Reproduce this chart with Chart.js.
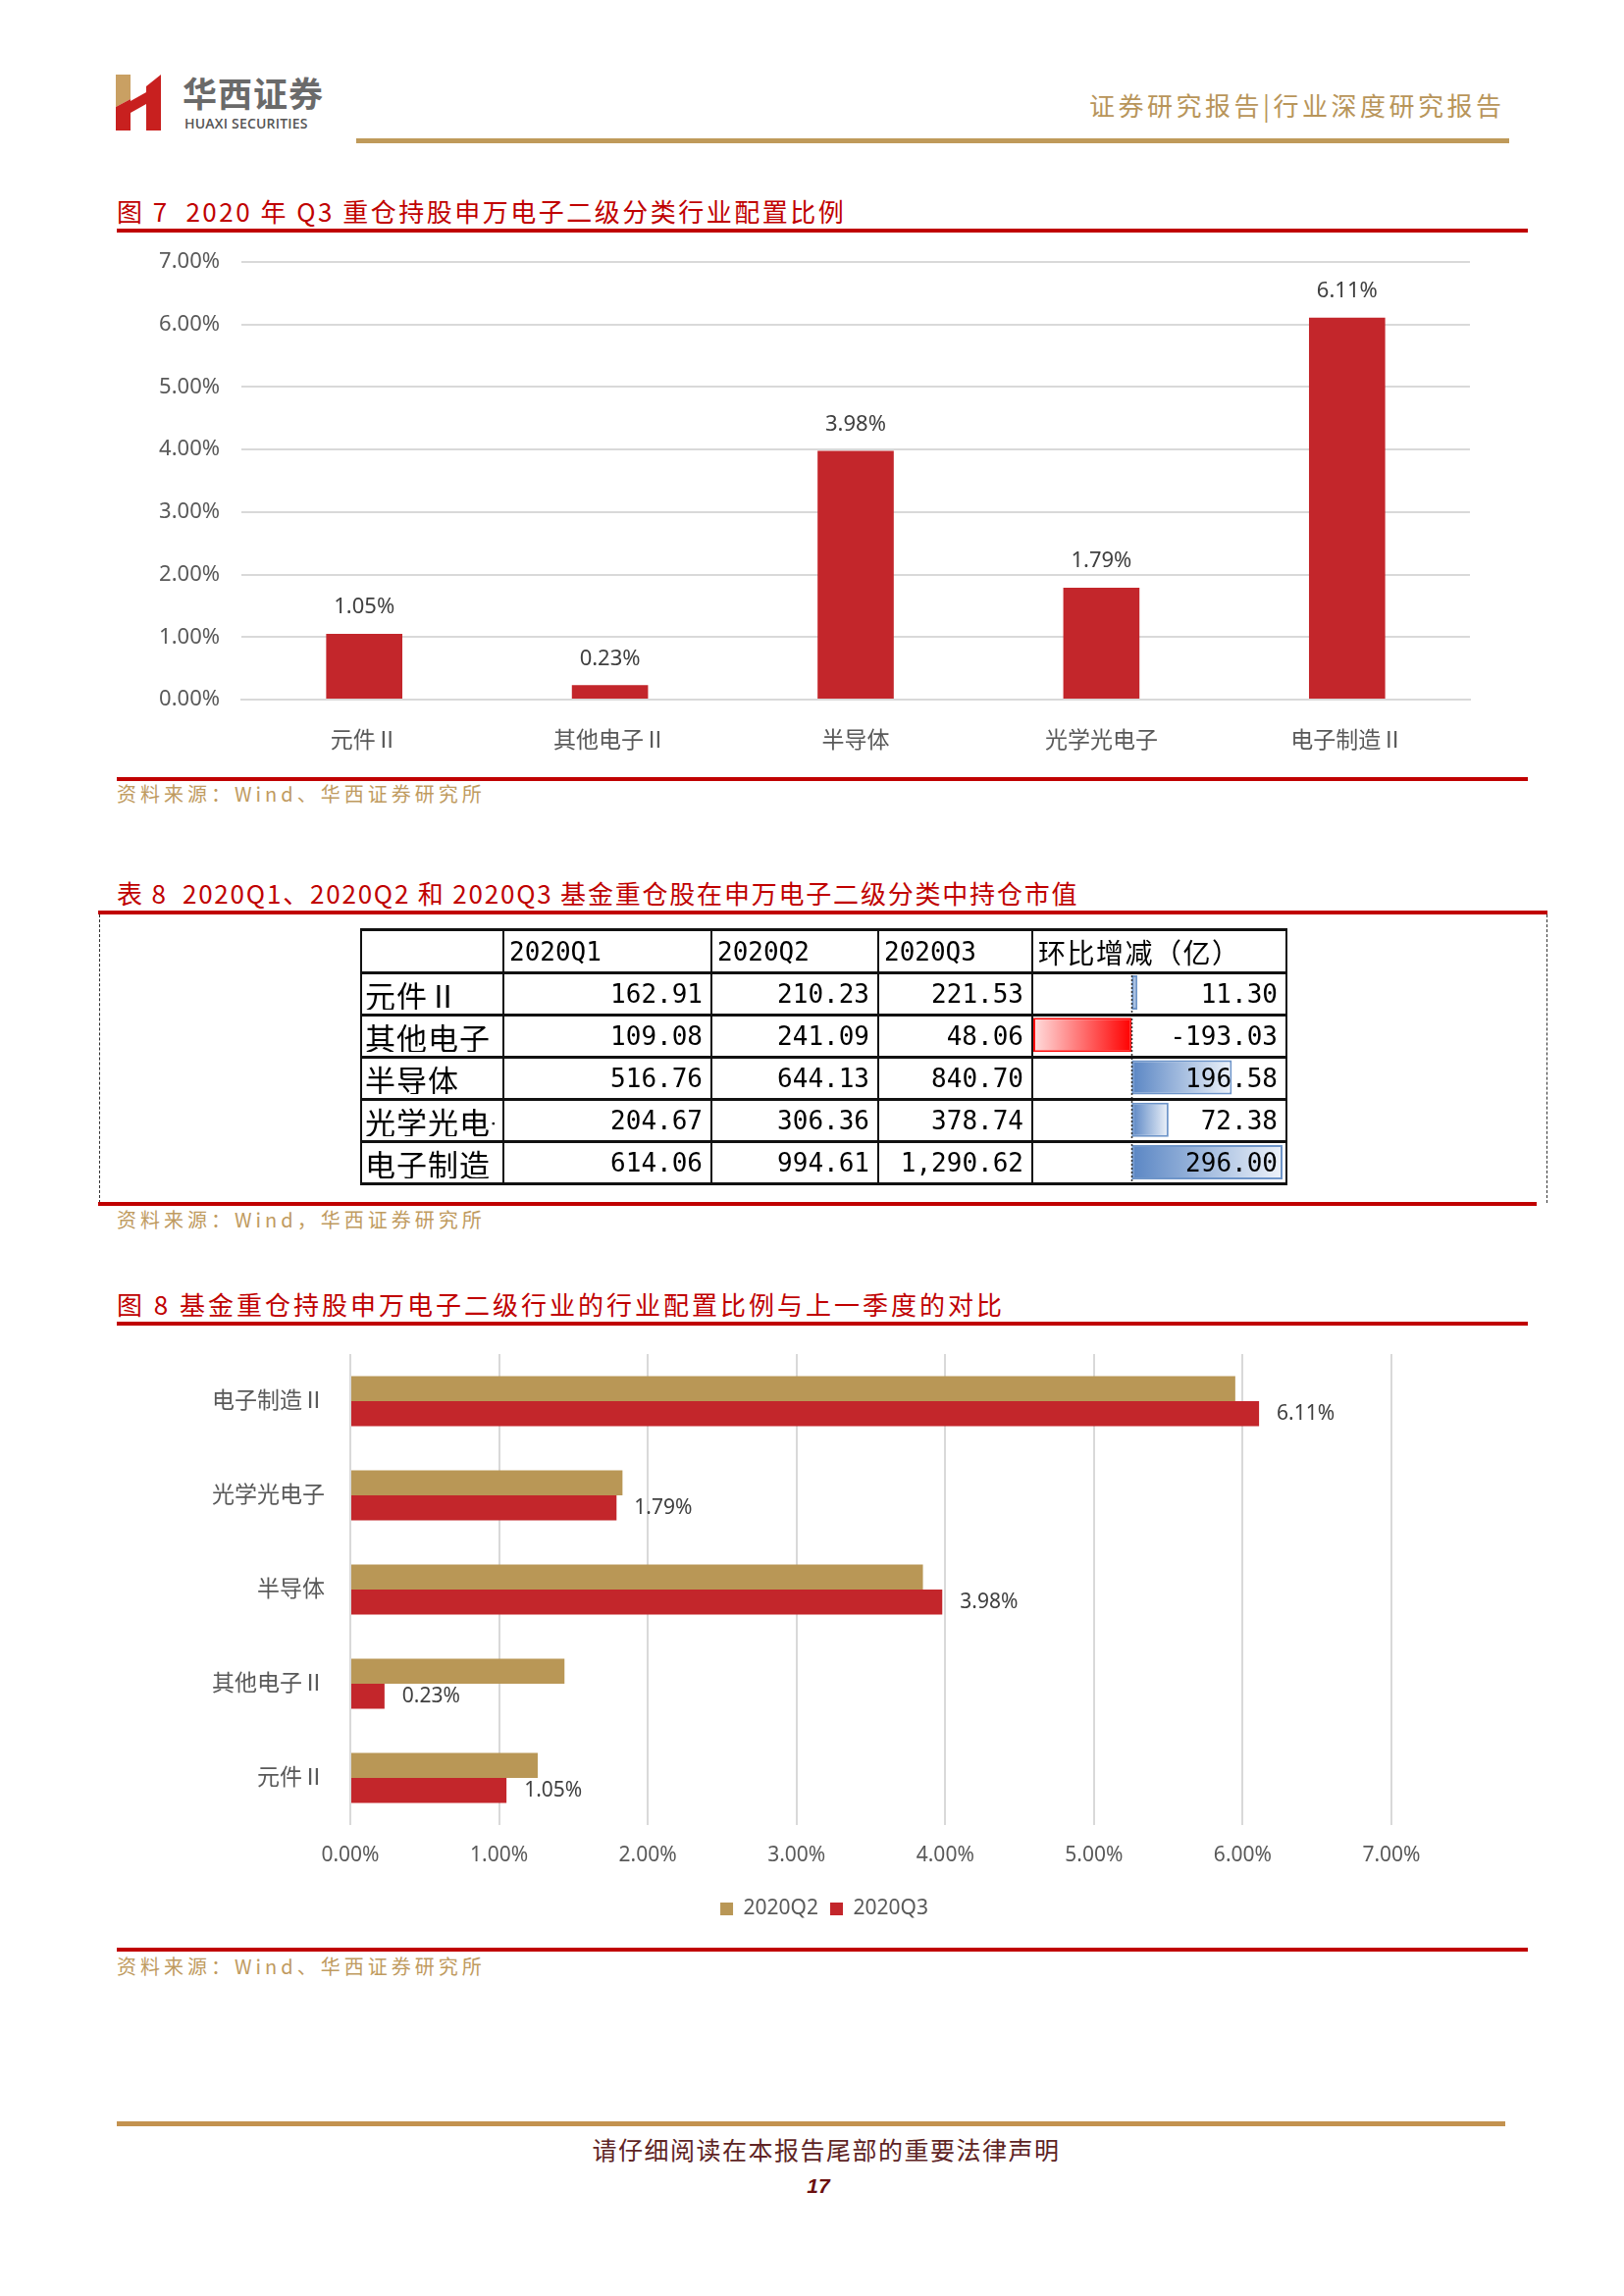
<!DOCTYPE html>
<html><head><meta charset="utf-8">
<script src="https://cdn.jsdelivr.net/npm/chart.js@4.4.1/dist/chart.umd.min.js"></script>
<style>
html,body{margin:0;padding:0;background:#fff;}
#page{position:relative;width:1655px;height:2340px;overflow:hidden;font-family:"Noto Sans CJK SC","Noto Sans",sans-serif;background:#fff;}
.t{position:absolute;white-space:nowrap;line-height:1;}
.bar{position:absolute;}
canvas{position:absolute;}
.title{color:#c00000;font-size:26px;letter-spacing:2.5px;left:119px;}
.src{color:#bf9b5f;font-size:20px;letter-spacing:4px;left:119px;}
#tbl{position:absolute;left:367px;top:946px;border-collapse:collapse;table-layout:fixed;z-index:2;background:transparent;}
#tbl td{border-top:3px solid #111;border-bottom:3px solid #111;border-left:2px solid #111;border-right:2px solid #111;padding:0;vertical-align:middle;overflow:hidden;white-space:nowrap;line-height:1;box-sizing:border-box;}
#tbl td.num{font-family:"DejaVu Sans Mono",monospace;font-size:26px;text-align:right;padding-right:8px;color:#000;}
#tbl td.hd{font-family:"DejaVu Sans Mono",monospace;font-size:26px;text-align:left;padding-left:5px;color:#000;}
#tbl td.cj{font-size:28px;text-align:left;padding-left:5px;color:#000;letter-spacing:1.5px;}
#tbl td.rl{font-size:31px;text-align:left;padding-left:3px;color:#000;letter-spacing:1px;}
</style></head>
<body><div id="page">

<!-- header logo -->
<svg style="position:absolute;left:118px;top:76px" width="46" height="57" viewBox="0 0 46 57">
  <polygon points="0,0 15,0 15,25 0,33" fill="#c9a063"/>
  <polygon points="0,33 15,25 15,57 0,57" fill="#c8201f"/>
  <polygon points="15,27 31,18 31,30 15,39" fill="#c8201f"/>
  <polygon points="31,12 46,0 46,57 31,57" fill="#c8201f"/>
</svg>
<div class="t" style="left:186px;top:76px;font-size:35px;font-weight:700;color:#6a6a6a;letter-spacing:1px;">华西证券</div>
<div class="t" style="left:188px;top:119px;font-size:14px;font-weight:600;color:#555;font-family:'Open Sans',sans-serif;letter-spacing:0.2px;">HUAXI SECURITIES</div>
<div class="t" style="left:1110px;top:94px;font-size:26px;color:#b8955a;letter-spacing:3.5px;">证券研究报告|行业深度研究报告</div>
<div class="bar" style="left:363px;top:141px;width:1175px;height:5px;background:#bf9a5a;"></div>

<!-- figure 7 -->
<div class="t title" style="top:202px;">图 7&nbsp; 2020 年 Q3 重仓持股申万电子二级分类行业配置比例</div>
<div class="bar" style="left:119px;top:233px;width:1438px;height:4px;background:#c00000;"></div>
<canvas id="c1" width="1400" height="545" style="left:120px;top:230px;"></canvas>
<div class="bar" style="left:119px;top:792px;width:1438px;height:4px;background:#c00000;"></div>
<div class="t src" style="top:799px;">资料来源：Wind、华西证券研究所</div>

<!-- table 8 -->
<div class="t title" style="top:897px;letter-spacing:1.8px;">表 8&nbsp; 2020Q1、2020Q2 和 2020Q3 基金重仓股在申万电子二级分类中持仓市值</div>
<div class="bar" style="left:100px;top:928px;width:1477px;height:4px;background:#c00000;"></div>
<div class="bar" style="left:101px;top:932px;width:0;height:294px;border-left:1px dashed #333;"></div>
<div class="bar" style="left:1576px;top:932px;width:0;height:294px;border-left:1px dashed #333;"></div>
<canvas id="c3" width="254" height="216" style="left:1053px;top:990px;z-index:1;"></canvas>
<table id="tbl"></table>
<div class="bar" style="left:100px;top:1225px;width:1466px;height:4px;background:#c00000;"></div>
<div class="t src" style="top:1233px;">资料来源：Wind，华西证券研究所</div>

<!-- figure 8 -->
<div class="t title" style="top:1316px;letter-spacing:3px;">图 8 基金重仓持股申万电子二级行业的行业配置比例与上一季度的对比</div>
<div class="bar" style="left:119px;top:1347px;width:1438px;height:4px;background:#c00000;"></div>
<canvas id="c2" width="1440" height="606" style="left:120px;top:1360px;"></canvas>
<div class="bar" style="left:119px;top:1985px;width:1438px;height:4px;background:#c00000;"></div>
<div class="t src" style="top:1994px;">资料来源：Wind、华西证券研究所</div>

<!-- footer -->
<div class="bar" style="left:119px;top:2162px;width:1415px;height:5px;background:#c3924f;"></div>
<div class="t" style="left:0;width:1684px;text-align:center;top:2178px;font-size:25px;color:#5e2424;letter-spacing:1.5px;">请仔细阅读在本报告尾部的重要法律声明</div>
<div class="t" style="left:0;width:1668px;text-align:center;top:2217px;font-size:21px;font-weight:700;font-style:italic;color:#6b0f0f;font-family:'Liberation Sans',sans-serif;">17</div>

</div>
<script>
// ---------------- data ----------------
const categories = ['元件Ⅱ', '其他电子Ⅱ', '半导体', '光学光电子', '电子制造Ⅱ'];
const share2020Q3 = [1.05, 0.23, 3.98, 1.79, 6.11];
const share2020Q2 = [1.26, 1.44, 3.85, 1.83, 5.95];
const seriesNames = ['2020Q2', '2020Q3'];
const tableHeaders = ['', '2020Q1', '2020Q2', '2020Q3', '环比增减（亿）'];
const value2020Q1 = [162.91, 109.08, 516.76, 204.67, 614.06];
const value2020Q2 = [210.23, 241.09, 644.13, 306.36, 994.61];
const value2020Q3 = [221.53, 48.06, 840.70, 378.74, 1290.62];
const valueChange = [11.30, -193.03, 196.58, 72.38, 296.00];
const pctTicks = [0, 1, 2, 3, 4, 5, 6, 7];

const FONT = '"Noto Sans", "Noto Sans CJK SC", sans-serif';
const fmtPct = v => Number(v).toFixed(2) + '%';
const fmtNum = v => v.toLocaleString('en-US', {minimumFractionDigits: 2, maximumFractionDigits: 2});

// -------------- label plugin --------------
const valueLabels = {
  id: 'valueLabels',
  afterDatasetsDraw(chart, args, opts) {
    if (!opts || !opts.enabled) return;
    const ctx = chart.ctx;
    const di = opts.datasetIndex;
    const meta = chart.getDatasetMeta(di);
    ctx.save();
    ctx.font = opts.font;
    ctx.fillStyle = opts.color;
    ctx.textBaseline = 'middle';
    meta.data.forEach((el, i) => {
      const txt = fmtPct(chart.data.datasets[di].data[i]);
      if (opts.mode === 'top') {
        ctx.textAlign = 'center';
        ctx.fillText(txt, el.x, el.y - opts.offset);
      } else {
        ctx.textAlign = 'left';
        ctx.fillText(txt, el.x + opts.offset, el.y);
      }
    });
    ctx.restore();
  }
};

// center the legend on the whole canvas width
const legendFullWidth = {
  id: 'legendFullWidth',
  afterLayout(chart) {
    const lg = chart.legend;
    if (!lg) return;
    lg.left = 0; lg.right = chart.width; lg.width = chart.width;
  }
};

// -------------- chart 1 --------------
new Chart(document.getElementById('c1'), {
  type: 'bar',
  data: {
    labels: categories,
    datasets: [{ label: '2020Q3', data: share2020Q3, backgroundColor: '#c3262b', categoryPercentage: 1, barPercentage: 0.31 }]
  },
  options: {
    responsive: false, animation: false, devicePixelRatio: 1,
    layout: { padding: { top: 37, right: 22, left: 0, bottom: 0 } },
    plugins: {
      legend: { display: false }, tooltip: { enabled: false },
      valueLabels: { enabled: true, datasetIndex: 0, mode: 'top', offset: 27, font: '22px ' + FONT, color: '#404040' }
    },
    scales: {
      x: {
        grid: { display: false, drawTicks: false },
        border: { display: true, color: '#d9d9d9', width: 2 },
        ticks: { color: '#595959', font: { size: 23, family: FONT }, padding: 29, maxRotation: 0, minRotation: 0 },
        afterFit(s) { s.height = 62; }
      },
      y: {
        min: 0, max: 7,
        afterBuildTicks(s) { s.ticks = pctTicks.map(v => ({ value: v })); },
        ticks: { callback: v => fmtPct(v), color: '#595959', font: { size: 22, family: FONT }, padding: 22 },
        grid: { color: '#d9d9d9', lineWidth: 2, drawTicks: false },
        border: { display: false },
        afterFit(s) { s.width = 126; }
      }
    }
  },
  plugins: [valueLabels]
});

// -------------- chart 2 --------------
const cats2 = categories.slice().reverse();
const q2r = share2020Q2.slice().reverse();
const q3r = share2020Q3.slice().reverse();
new Chart(document.getElementById('c2'), {
  type: 'bar',
  data: {
    labels: cats2,
    datasets: [
      { label: seriesNames[0], data: q2r, backgroundColor: '#b99756' },
      { label: seriesNames[1], data: q3r, backgroundColor: '#c3262b' }
    ]
  },
  options: {
    indexAxis: 'y',
    responsive: false, animation: false, devicePixelRatio: 1,
    datasets: { bar: { categoryPercentage: 0.53, barPercentage: 1 } },
    layout: { padding: { top: 20, right: 142, left: 0, bottom: 0 } },
    plugins: {
      tooltip: { enabled: false },
      legend: {
        position: 'bottom',
        labels: { boxWidth: 13, boxHeight: 13, color: '#595959', font: { size: 21, family: FONT }, padding: 12 }
      },
      valueLabels: { enabled: true, datasetIndex: 1, mode: 'right', offset: 18, font: '21px ' + FONT, color: '#404040' }
    },
    scales: {
      x: {
        min: 0, max: 7,
        afterBuildTicks(s) { s.ticks = pctTicks.map(v => ({ value: v })); },
        ticks: { callback: v => fmtPct(v), color: '#595959', font: { size: 21, family: FONT }, padding: 18 },
        grid: { color: '#d9d9d9', lineWidth: 2, drawTicks: false },
        border: { display: false },
        afterFit(s) { s.height = 63; }
      },
      y: {
        grid: { display: false, drawTicks: false },
        border: { display: false },
        ticks: { color: '#595959', font: { size: 23, family: FONT }, padding: 26 },
        afterFit(s) { s.width = 237; s.paddingTop = 0; s.paddingBottom = 0; }
      }
    }
  },
  plugins: [valueLabels, legendFullWidth]
});

// -------------- table --------------
const colW = [145, 212, 170, 157, 259];
const tbl = document.getElementById('tbl');
tbl.style.width = colW.reduce((a, b) => a + b, 0) + 'px';
let html = '<colgroup>' + colW.map(w => '<col style="width:' + w + 'px">').join('') + '</colgroup>';
html += '<tr>' + tableHeaders.map((h, i) => '<td class="' + (i === 4 ? 'cj' : 'hd') + '" style="height:44px">' + h + '</td>').join('') + '</tr>';
categories.forEach((c, i) => {
  const st = ' style="height:43px"';
  html += '<tr><td class="rl"' + st + '><div style="width:132px;overflow:hidden">' + c + '</div></td>' +
    '<td class="num"' + st + '>' + fmtNum(value2020Q1[i]) + '</td>' +
    '<td class="num"' + st + '>' + fmtNum(value2020Q2[i]) + '</td>' +
    '<td class="num"' + st + '>' + fmtNum(value2020Q3[i]) + '</td>' +
    '<td class="num"' + st + '>' + fmtNum(valueChange[i]) + '</td></tr>';
});
tbl.innerHTML = html;

// -------------- data bars in table --------------
const zeroLine = {
  id: 'zeroLine',
  afterDatasetsDraw(chart) {
    const xs = chart.scales.x; const ctx = chart.ctx;
    const x = Math.round(xs.getPixelForValue(0)) + 0.5;
    ctx.save();
    ctx.strokeStyle = '#333'; ctx.lineWidth = 1.5; ctx.setLineDash([2, 2]);
    ctx.beginPath(); ctx.moveTo(x, 0); ctx.lineTo(x, chart.height); ctx.stroke();
    ctx.restore();
  }
};
new Chart(document.getElementById('c3'), {
  type: 'bar',
  data: {
    labels: categories,
    datasets: [{
      data: valueChange,
      categoryPercentage: 1, barPercentage: 0.81,
      borderWidth: 2, borderSkipped: false,
      borderColor: c => (c.raw < 0 ? '#ff1010' : '#6e95c9'),
      backgroundColor: c => {
        const chart = c.chart; const xs = chart.scales.x;
        if (!xs || !chart.chartArea || c.raw === undefined) return 'rgba(0,0,0,0)';
        const x0 = xs.getPixelForValue(0), x1 = xs.getPixelForValue(c.raw);
        const g = chart.ctx.createLinearGradient(x0, 0, x1 === x0 ? x0 + 1 : x1, 0);
        if (c.raw < 0) { g.addColorStop(0, '#ff0000'); g.addColorStop(1, '#ffdede'); }
        else { g.addColorStop(0, '#5a86c4'); g.addColorStop(1, '#eef3fa'); }
        return g;
      }
    }]
  },
  options: {
    indexAxis: 'y',
    responsive: false, animation: false, devicePixelRatio: 1,
    layout: { padding: 0 },
    plugins: { legend: { display: false }, tooltip: { enabled: false } },
    scales: {
      x: { display: false, min: -193.03, max: 296 },
      y: { display: false }
    }
  },
  plugins: [zeroLine]
});
</script>
</body></html>
